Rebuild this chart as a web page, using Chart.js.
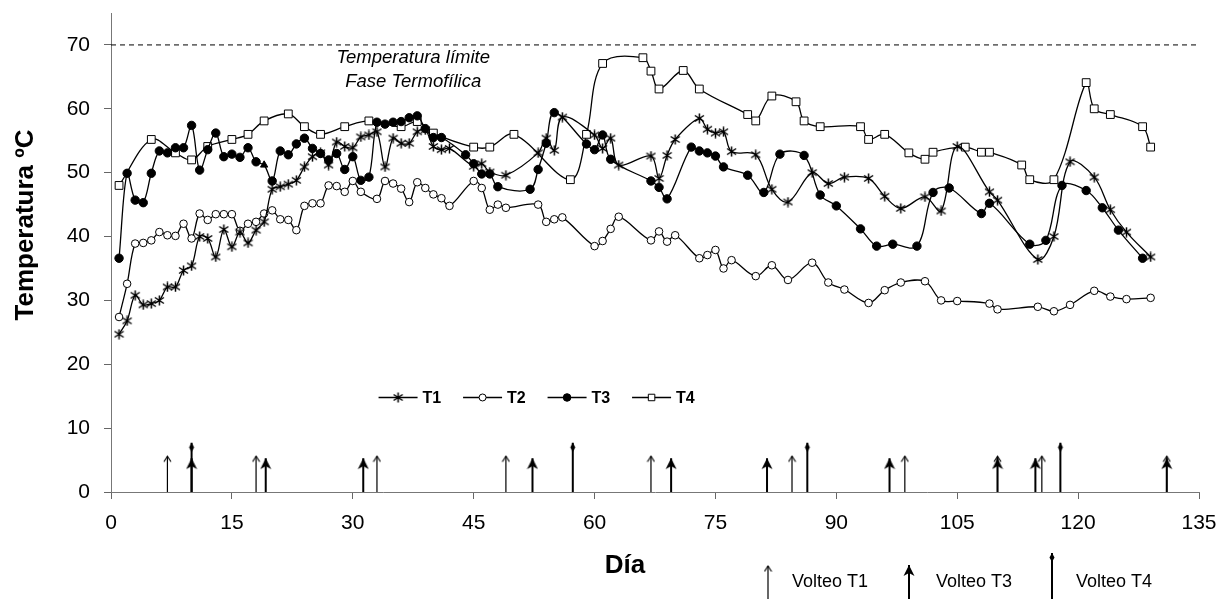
<!DOCTYPE html>
<html>
<head>
<meta charset="utf-8">
<title>Temperatura de compostaje</title>
<script src="https://cdn.jsdelivr.net/npm/chart.js@4.4.1/dist/chart.umd.min.js"></script>
<style>
  html, body { margin: 0; padding: 0; background: #fff; }
  #chart { display: block; }
</style>
</head>
<body>
<canvas id="chart" width="1220" height="599"></canvas>
<script>
// dias y temperaturas
const t1Days = [1, 2, 3, 4, 5, 6, 7, 8, 9, 10,
  11, 12, 13, 14, 15, 16, 17, 18, 19, 20,
  21, 22, 23, 24, 25, 26, 27, 28, 29, 30,
  31, 32, 33, 34, 35, 36, 37, 38, 39, 40,
  41, 42, 45, 46, 47, 49, 53, 54, 55, 56,
  60, 61, 62, 63, 67, 68, 69, 70, 73, 74,
  75, 76, 77, 80, 82, 84, 87, 89, 91, 94,
  96, 98, 101, 103, 105, 109, 110, 115, 117, 119,
  122, 124, 126, 129];
const t1Temp = [24.7, 26.8, 30.8, 29.3, 29.5, 30.0, 32.1, 32.1, 34.7, 35.4,
  40.0, 39.7, 36.8, 41.1, 38.4, 40.7, 39.0, 41.0, 42.3, 47.4,
  47.8, 48.2, 48.8, 50.9, 52.5, 53.1, 51.2, 54.8, 54.1, 53.9,
  55.6, 55.9, 56.4, 50.9, 55.4, 54.6, 54.6, 56.4, 56.7, 54.1,
  53.6, 53.8, 51.0, 51.4, 50.1, 49.6, 53.1, 55.4, 53.5, 58.7,
  55.9, 53.8, 55.4, 51.2, 52.6, 49.1, 52.7, 55.2, 58.5, 56.8,
  56.2, 56.4, 53.3, 52.8, 47.4, 45.4, 50.0, 48.3, 49.3, 49.1,
  46.3, 44.4, 46.2, 44.0, 54.1, 47.0, 45.7, 36.4, 40.0, 51.7,
  49.3, 44.2, 40.7, 36.8];

const t2Days = [1, 2, 3, 4, 5, 6, 7, 8, 9, 10,
  11, 12, 13, 14, 15, 16, 17, 18, 19, 20,
  21, 22, 23, 24, 25, 26, 27, 28, 29, 30,
  31, 33, 34, 35, 36, 37, 38, 39, 40, 41,
  42, 45, 46, 47, 48, 49, 53, 54, 55, 56,
  60, 61, 62, 63, 67, 68, 69, 70, 73, 74,
  75, 76, 77, 80, 82, 84, 87, 89, 91, 94,
  96, 98, 101, 103, 105, 109, 110, 115, 117, 119,
  122, 124, 126, 129];
const t2Temp = [27.4, 32.6, 38.9, 39.0, 39.4, 40.7, 40.2, 40.1, 42.0, 39.7,
  43.6, 42.6, 43.5, 43.5, 43.5, 40.9, 42.0, 42.3, 43.6, 44.1,
  42.7, 42.6, 41.0, 44.8, 45.2, 45.2, 48.0, 47.9, 47.0, 48.7,
  47.0, 45.9, 48.7, 48.3, 47.5, 45.4, 48.5, 47.6, 46.6, 46.0,
  44.8, 48.7, 47.6, 44.2, 45.0, 44.5, 45.0, 42.3, 42.7, 43.0,
  38.5, 39.3, 41.2, 43.1, 39.4, 40.8, 39.2, 40.2, 36.6, 37.1,
  37.9, 35.0, 36.3, 33.8, 35.5, 33.2, 35.9, 32.8, 31.7, 29.6,
  31.6, 32.8, 33.0, 30.0, 29.9, 29.5, 28.6, 29.0, 28.3, 29.3,
  31.5, 30.6, 30.2, 30.4];

const t3Days = [1, 2, 3, 4, 5, 6, 7, 8, 9, 10,
  11, 12, 13, 14, 15, 16, 17, 18, 19, 20,
  21, 22, 23, 24, 25, 26, 27, 28, 29, 30,
  31, 32, 33, 34, 35, 36, 37, 38, 39, 40,
  41, 44, 45, 46, 47, 48, 52, 53, 54, 55,
  59, 60, 61, 62, 67, 68, 69, 72, 73, 74,
  75, 76, 79, 81, 83, 86, 88, 90, 93, 95,
  97, 100, 102, 104, 108, 109, 114, 116, 118, 121,
  123, 125, 128];
const t3Temp = [36.6, 49.9, 45.7, 45.3, 49.9, 53.4, 53.1, 53.9, 53.9, 57.4,
  50.4, 53.6, 56.2, 52.5, 52.9, 52.4, 53.9, 51.7, 51.2, 48.7,
  53.4, 52.8, 54.5, 55.4, 53.8, 53.0, 52.0, 53.0, 50.5, 52.5,
  48.8, 49.3, 57.9, 57.6, 57.9, 58.0, 58.6, 58.9, 56.9, 55.5,
  55.5, 52.8, 51.4, 49.8, 49.8, 47.8, 47.4, 50.5, 54.6, 59.4,
  54.5, 53.6, 55.9, 52.1, 48.7, 47.7, 45.9, 54.0, 53.4, 53.1,
  52.6, 50.9, 49.6, 46.9, 52.9, 52.7, 46.5, 44.8, 41.2, 38.5,
  38.8, 38.5, 46.9, 47.6, 43.6, 45.2, 38.8, 39.4, 48.0, 47.2,
  44.5, 41.0, 36.6];

const t4Days = [1, 5, 8, 10, 12, 15, 17, 19, 22, 24,
  26, 29, 32, 36, 38, 40, 45, 47, 50, 57,
  59, 61, 66, 67, 68, 71, 73, 79, 80, 82,
  85, 86, 88, 93, 94, 96, 99, 101, 102, 106,
  108, 109, 113, 114, 117, 121, 122, 124, 128, 129];
const t4Temp = [48.0, 55.2, 53.1, 52.0, 54.1, 55.2, 56.0, 58.1, 59.2, 57.2,
  56.0, 57.2, 58.1, 57.2, 58.0, 56.2, 54.0, 54.0, 56.0, 48.9,
  56.0, 67.1, 68.0, 65.9, 63.1, 66.0, 63.1, 59.1, 58.1, 62.0,
  61.1, 58.1, 57.2, 57.2, 55.2, 56.0, 53.1, 52.1, 53.2, 54.0,
  53.2, 53.2, 51.2, 48.9, 48.9, 64.1, 60.0, 59.1, 57.2, 54.0];

// dias de volteo
const volteoT1 = [7, 18, 33, 49, 67, 84.5, 98.5, 110, 115.5, 131];
const volteoT3 = [10, 19.2, 31.3, 52.3, 69.5, 81.4, 96.6, 110, 114.7, 131];
const volteoT4 = [10, 57.3, 86.4, 117.8];

const seriesNames = ['T1', 'T2', 'T3', 'T4'];
const limitTemp = 70;
const limitLabel = ['Temperatura límite', 'Fase Termofílica'];
const keyLabels = ['Volteo T1', 'Volteo T3', 'Volteo T4'];
const xTitle = 'Día';
const yTitle = 'Temperatura ºC';

const FONT = "Arial, 'Liberation Sans', sans-serif";
Chart.defaults.font.family = FONT;
Chart.defaults.color = '#000';

function sprite(w, h, draw) {
  const c = document.createElement('canvas');
  c.width = w;
  c.height = h;
  const g = c.getContext('2d');
  g.strokeStyle = '#000';
  g.fillStyle = '#000';
  draw(g);
  return c;
}

const asterisk = sprite(11, 11, g => {
  g.lineWidth = 1.5;
  g.beginPath();
  g.moveTo(5.5, 0.5); g.lineTo(5.5, 10.5);
  g.moveTo(1, 2.5); g.lineTo(10, 8.5);
  g.moveTo(10, 2.5); g.lineTo(1, 8.5);
  g.stroke();
});
// puntas de flecha, con la punta en el centro del sprite
const thinHead = sprite(9, 16, g => {
  g.lineWidth = 1.2;
  g.beginPath();
  g.moveTo(1, 13.5); g.lineTo(4.5, 8); g.lineTo(8, 13.5);
  g.stroke();
});
const boldHead = sprite(12, 24, g => {
  g.beginPath();
  g.moveTo(6, 12); g.lineTo(11.5, 23); g.lineTo(6, 20); g.lineTo(0.5, 23);
  g.closePath();
  g.fill();
});
const t4Head = sprite(8, 26, g => {
  g.beginPath();
  g.moveTo(4, 13); g.lineTo(6.5, 17.5); g.lineTo(4, 22); g.lineTo(1.5, 17.5);
  g.closePath();
  g.fill();
});

function points(days, temps) {
  return days.map((d, i) => ({x: d, y: temps[i]}));
}
function arrows(days, h) {
  const pts = [];
  days.forEach(d => pts.push({x: d, y: 0}, {x: d, y: h}, {x: d, y: null}));
  return pts;
}

const lineBase = {
  type: 'line',
  borderColor: '#000',
  borderWidth: 1.3,
  tension: 0.35,
  pointBorderColor: '#000',
  pointBorderWidth: 1,
  fill: false
};
const arrowBase = {
  type: 'line',
  borderColor: '#000',
  tension: 0,
  spanGaps: false,
  pointRadius: ctx => (ctx.dataIndex % 3 === 1 ? 3 : 0)
};

const styles = [
  {pointStyle: asterisk, pointRadius: 5, pointBackgroundColor: '#000'},
  {pointStyle: 'circle', pointRadius: 3.8, pointBackgroundColor: '#fff'},
  {pointStyle: ctx => (ctx.dataIndex === 18 ? 'triangle' : 'circle'), pointRadius: 4.2, pointBackgroundColor: '#000'},
  {pointStyle: 'rect', pointRadius: 5.5, pointBackgroundColor: '#fff'}
];

const series = [
  points(t1Days, t1Temp),
  points(t2Days, t2Temp),
  points(t3Days, t3Temp),
  points(t4Days, t4Temp)
];

const datasets = series.map((data, i) => Object.assign({}, lineBase, styles[i], {
  label: seriesNames[i],
  data: data
}));

datasets.push({
  type: 'line',
  label: 'limite',
  data: [{x: 0, y: limitTemp}, {x: 135, y: limitTemp}],
  borderColor: '#000',
  borderWidth: 1,
  borderDash: [5, 4],
  pointRadius: 0,
  tension: 0
});
datasets.push(Object.assign({}, arrowBase, {label: keyLabels[0], data: arrows(volteoT1, 5.6), borderWidth: 1.2, pointStyle: thinHead}));
datasets.push(Object.assign({}, arrowBase, {label: keyLabels[1], data: arrows(volteoT3, 5.3), borderWidth: 2, pointStyle: boldHead}));
datasets.push(Object.assign({}, arrowBase, {label: keyLabels[2], data: arrows(volteoT4, 7.7), borderWidth: 2, pointStyle: t4Head}));

// textos, leyenda y clave de volteos
const annotations = {
  id: 'annotations',
  afterDraw(chart) {
    const {ctx} = chart;
    const x = chart.scales.x;
    const y = chart.scales.y;
    ctx.save();
    ctx.fillStyle = '#000';
    ctx.strokeStyle = '#000';
    ctx.textBaseline = 'middle';

    ctx.font = 'italic 18.5px ' + FONT;
    ctx.textAlign = 'center';
    ctx.fillText(limitLabel[0], x.getPixelForValue(37.5), y.getPixelForValue(67.9));
    ctx.fillText(limitLabel[1], x.getPixelForValue(37.5), y.getPixelForValue(64.2));

    // leyenda
    const ly = y.getPixelForValue(14.8);
    let lx = x.getPixelForValue(33.2);
    ctx.font = 'bold 16px ' + FONT;
    ctx.textAlign = 'left';
    const legendSizes = [5, 3.5, 3.8, 4.6];
    seriesNames.forEach((name, i) => {
      ctx.lineWidth = 1.3;
      ctx.beginPath();
      ctx.moveTo(lx, ly);
      ctx.lineTo(lx + 39, ly);
      ctx.stroke();
      ctx.lineWidth = 1;
      ctx.fillStyle = styles[i].pointBackgroundColor;
      const ps = typeof styles[i].pointStyle === 'function' ? 'circle' : styles[i].pointStyle;
      Chart.helpers.drawPoint(ctx, {pointStyle: ps, radius: legendSizes[i], borderWidth: 1, rotation: 0}, lx + 19.5, ly);
      ctx.fillStyle = '#000';
      ctx.fillText(name, lx + 44, ly + 1);
      lx += 84.5;
    });

    // titulos de ejes
    ctx.font = 'bold 26px ' + FONT;
    ctx.textAlign = 'center';
    ctx.fillText(xTitle, 625, 566);
    ctx.save();
    ctx.translate(26, 225);
    ctx.rotate(-Math.PI / 2);
    ctx.fillText(yTitle, 0, 0);
    ctx.restore();

    // clave de volteos
    const keys = [
      {x: 768, tip: 566, w: 1.2, head: thinHead, text: 792},
      {x: 909, tip: 565, w: 2, head: boldHead, text: 936},
      {x: 1052, tip: 553, w: 2, head: t4Head, text: 1076}
    ];
    ctx.font = '18px ' + FONT;
    ctx.textAlign = 'left';
    keys.forEach((k, i) => {
      ctx.lineWidth = k.w;
      ctx.beginPath();
      ctx.moveTo(k.x, 599);
      ctx.lineTo(k.x, k.tip);
      ctx.stroke();
      ctx.drawImage(k.head, k.x - k.head.width / 2, k.tip - k.head.height / 2);
      ctx.fillText(keyLabels[i], k.text, 582);
    });
    ctx.restore();
  }
};

new Chart(document.getElementById('chart'), {
  type: 'line',
  data: {datasets: datasets},
  plugins: [annotations],
  options: {
    responsive: false,
    animation: false,
    events: [],
    layout: {padding: {left: 0, right: 21, top: 13, bottom: 0}},
    plugins: {
      legend: {display: false},
      tooltip: {enabled: false}
    },
    scales: {
      x: {
        type: 'linear',
        min: 0,
        max: 135,
        ticks: {stepSize: 15, font: {size: 21}, padding: 12, maxRotation: 0, color: '#000'},
        grid: {drawOnChartArea: false, tickLength: 7, color: '#666'},
        border: {color: '#777', width: 1},
        afterFit: s => {
          s.height = 107;
          s.paddingLeft = 0;
          s.paddingRight = 0;
        }
      },
      y: {
        type: 'linear',
        min: 0,
        max: 75,
        ticks: {stepSize: 10, font: {size: 21}, padding: 14, color: '#000'},
        grid: {drawOnChartArea: false, tickLength: 7, color: '#666'},
        border: {color: '#777', width: 1},
        afterBuildTicks: s => { s.ticks = s.ticks.filter(t => t.value <= 70); },
        afterFit: s => {
          s.width = 111;
          s.paddingTop = 0;
          s.paddingBottom = 0;
        }
      }
    }
  }
});
</script>
</body>
</html>
